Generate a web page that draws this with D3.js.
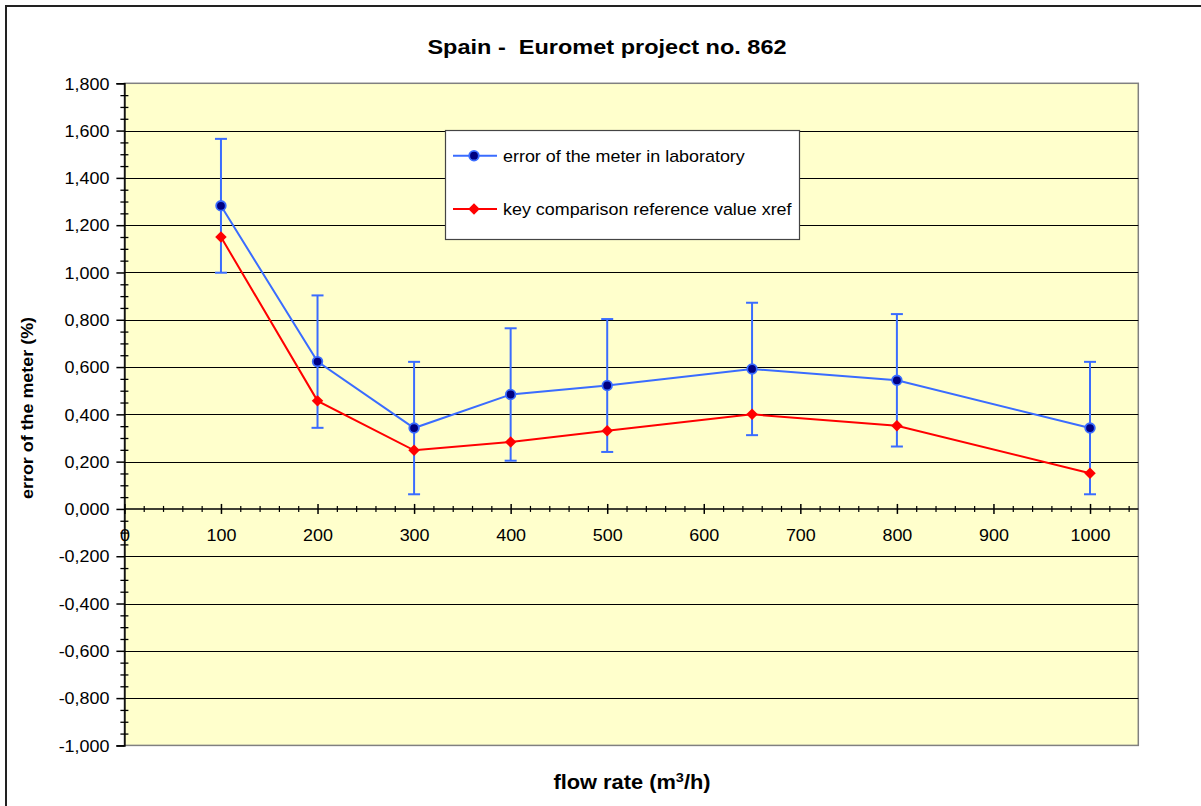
<!DOCTYPE html>
<html>
<head>
<meta charset="utf-8">
<script src="https://cdn.jsdelivr.net/npm/d3@7/dist/d3.min.js"></script>
<style>
  html, body { margin: 0; padding: 0; background: #ffffff; }
  svg { display: block; }
  text { font-family: "Liberation Sans", Arial, Helvetica, sans-serif; white-space: pre; }
</style>
</head>
<body>
<svg id="chart" width="1201" height="806"></svg>
<script>
// ---- data ----
const flowRates = [100, 200, 300, 400, 500, 650, 800, 1000];
const labError = [1.282, 0.623, 0.342, 0.484, 0.522, 0.592, 0.544, 0.342];
const labUncertainty = [0.283, 0.280, 0.280, 0.280, 0.281, 0.280, 0.280, 0.280];
const referenceValue = [1.150, 0.457, 0.248, 0.283, 0.331, 0.400, 0.352, 0.151];
const xTickValues = [0, 100, 200, 300, 400, 500, 600, 700, 800, 900, 1000];
const yTickValues = [-1.0, -0.8, -0.6, -0.4, -0.2, 0.0, 0.2, 0.4, 0.6, 0.8, 1.0, 1.2, 1.4, 1.6, 1.8];
const seriesNames = ["error of the meter in laboratory", "key comparison reference value xref"];
const chartTitle = "Spain -  Euromet project no. 862";
const xTitle = "flow rate (m";
const yTitle = "error of the meter (%)";

// ---- layout ----
const svg = d3.select("#chart");
const plotL = 124.4, plotR = 1138.3, plotT = 83.3, plotB = 745.4;
const x = d3.scaleLinear().domain([0, 1050]).range([plotL, plotR]);
const y = d3.scaleLinear().domain([-1, 1.8]).range([plotB, plotT]);
const K = 1.12; // horizontal stretch of the text
const blue = "#3a6cff", red = "#ff0000";

function stretchedText(px, py, str, size, weight, anchor) {
  return svg.append("text")
    .attr("transform", `translate(${px},${py}) scale(${K},1)`)
    .attr("text-anchor", anchor || "middle")
    .attr("font-size", size)
    .attr("font-weight", weight || "normal")
    .attr("fill", "#000")
    .text(str);
}

// outer frame
svg.append("rect").attr("x", 6).attr("y", 6).attr("width", 1220).attr("height", 830)
  .attr("fill", "#fff").attr("stroke", "#222").attr("stroke-width", 2);

// plot background
svg.append("rect").attr("x", plotL).attr("y", plotT).attr("width", plotR - plotL).attr("height", plotB - plotT)
  .attr("fill", "#ffffcc").attr("stroke", "#808080").attr("stroke-width", 1.5);

// gridlines
svg.append("g").selectAll("line")
  .data(yTickValues.filter(v => v > -1 && v < 1.8 && Math.abs(v) > 1e-9))
  .join("line")
  .attr("x1", plotL).attr("x2", plotR)
  .attr("y1", d => Math.round(y(d)) + 0.5).attr("y2", d => Math.round(y(d)) + 0.5)
  .attr("stroke", "#000").attr("stroke-width", 1);

// y axis
const fmt = v => d3.format(".3f")(v).replace(".", ",").replace("−", "-");
const yMinor = d3.range(-100, 181, 5).map(v => v / 100).filter(v => !yTickValues.some(t => Math.abs(t - v) < 1e-9));
const yMinorAxis = svg.append("g").attr("transform", `translate(${plotL},0)`)
  .call(d3.axisLeft(y).tickValues(yMinor).tickSize(4).tickFormat(""));
yMinorAxis.select(".domain").remove();
yMinorAxis.selectAll(".tick line").attr("x1", -4).attr("x2", 4).attr("stroke", "#000").attr("stroke-width", 1.3);

const yAxis = svg.append("g").attr("transform", `translate(${plotL},0)`)
  .call(d3.axisLeft(y).tickValues(yTickValues).tickSize(8).tickPadding(7).tickFormat(fmt));
yAxis.select(".domain").attr("stroke", "#000").attr("stroke-width", 1.5);
yAxis.selectAll(".tick line").attr("stroke", "#000").attr("stroke-width", 1.5);
yAxis.selectAll(".tick text")
  .attr("font-family", "Liberation Sans, Arial, sans-serif")
  .attr("font-size", 16).attr("fill", "#000")
  .attr("x", -15 / K).attr("dy", "0.36em")
  .attr("transform", `scale(${K},1)`);

// x axis (at y = 0)
const xMinor = d3.range(0, 1051, 20).filter(v => v % 100 !== 0);
const xMinorAxis = svg.append("g").attr("transform", `translate(0,${y(0)})`)
  .call(d3.axisBottom(x).tickValues(xMinor).tickSize(3).tickFormat(""));
xMinorAxis.select(".domain").remove();
xMinorAxis.selectAll(".tick line").attr("y1", -3).attr("y2", 3).attr("stroke", "#000").attr("stroke-width", 1.2);

const xAxis = svg.append("g").attr("transform", `translate(0,${y(0)})`)
  .call(d3.axisBottom(x).tickValues(xTickValues).tickSize(5).tickFormat(d3.format("d")));
xAxis.select(".domain").attr("d", `M${plotL},0H${plotR}`).attr("stroke", "#000").attr("stroke-width", 1.5);
xAxis.selectAll(".tick line").attr("y1", -5).attr("y2", 5).attr("stroke", "#000").attr("stroke-width", 1.5);
xAxis.selectAll(".tick text")
  .attr("font-family", "Liberation Sans, Arial, sans-serif")
  .attr("font-size", 16).attr("fill", "#000")
  .attr("x", 0).attr("y", 26).attr("dy", "0.36em")
  .attr("transform", `scale(${K},1)`);

// error bars (lab)
const eb = svg.append("g").attr("stroke", blue).attr("stroke-width", 2);
flowRates.forEach((f, i) => {
  const cx = x(f), top = y(labError[i] + labUncertainty[i]), bot = y(labError[i] - labUncertainty[i]);
  eb.append("line").attr("x1", cx).attr("x2", cx).attr("y1", top).attr("y2", bot);
  eb.append("line").attr("x1", cx - 6).attr("x2", cx + 6).attr("y1", top).attr("y2", top);
  eb.append("line").attr("x1", cx - 6).attr("x2", cx + 6).attr("y1", bot).attr("y2", bot);
});

const line = d3.line().x(d => x(d[0])).y(d => y(d[1]));
const labPts = flowRates.map((f, i) => [f, labError[i]]);
const refPts = flowRates.map((f, i) => [f, referenceValue[i]]);

svg.append("path").datum(labPts).attr("d", line).attr("fill", "none").attr("stroke", blue).attr("stroke-width", 2);
svg.append("g").selectAll("circle").data(labPts).join("circle")
  .attr("cx", d => x(d[0])).attr("cy", d => y(d[1])).attr("r", 4.8)
  .attr("fill", "#000080").attr("stroke", blue).attr("stroke-width", 1.8);

const diamond = d3.symbol(d3.symbolSquare, 66);
svg.append("path").datum(refPts).attr("d", line).attr("fill", "none").attr("stroke", red).attr("stroke-width", 2);
svg.append("g").selectAll("path").data(refPts).join("path")
  .attr("d", diamond)
  .attr("transform", d => `translate(${x(d[0])},${y(d[1])}) rotate(45)`)
  .attr("fill", red);

// legend
const lg = svg.append("g");
lg.append("rect").attr("x", 445.5).attr("y", 130.5).attr("width", 354).attr("height", 109)
  .attr("fill", "#fff").attr("stroke", "#444").attr("stroke-width", 1.2);
const legendRows = [
  { name: seriesNames[0], color: blue, ly: 155.7, kind: "circle" },
  { name: seriesNames[1], color: red, ly: 209, kind: "diamond" }
];
legendRows.forEach(r => {
  lg.append("line").attr("x1", 453).attr("x2", 497).attr("y1", r.ly).attr("y2", r.ly)
    .attr("stroke", r.color).attr("stroke-width", 2);
  if (r.kind === "circle") {
    lg.append("circle").attr("cx", 474).attr("cy", r.ly).attr("r", 4.8)
      .attr("fill", "#000080").attr("stroke", blue).attr("stroke-width", 1.8);
  } else {
    lg.append("path").attr("d", diamond).attr("transform", `translate(474,${r.ly}) rotate(45)`).attr("fill", red);
  }
  lg.append("text").attr("transform", `translate(503,${r.ly + 6}) scale(${K},1)`)
    .attr("font-size", 16).attr("fill", "#000").text(r.name);
});

// titles
stretchedText(607, 54, chartTitle, 21, "bold");
const xt = svg.append("text")
  .attr("transform", `translate(632,789) scale(${K},1)`)
  .attr("text-anchor", "middle").attr("font-size", 19.5).attr("font-weight", "bold").attr("fill", "#000");
xt.append("tspan").text(xTitle);
xt.append("tspan").attr("font-size", 13).attr("dy", -7).text("3");
xt.append("tspan").attr("dy", 7).text("/h)");

svg.append("text")
  .attr("transform", `translate(33,408) rotate(-90) scale(${K},1)`)
  .attr("text-anchor", "middle").attr("font-size", 16).attr("font-weight", "bold").attr("fill", "#000")
  .text(yTitle);
</script>
</body>
</html>
